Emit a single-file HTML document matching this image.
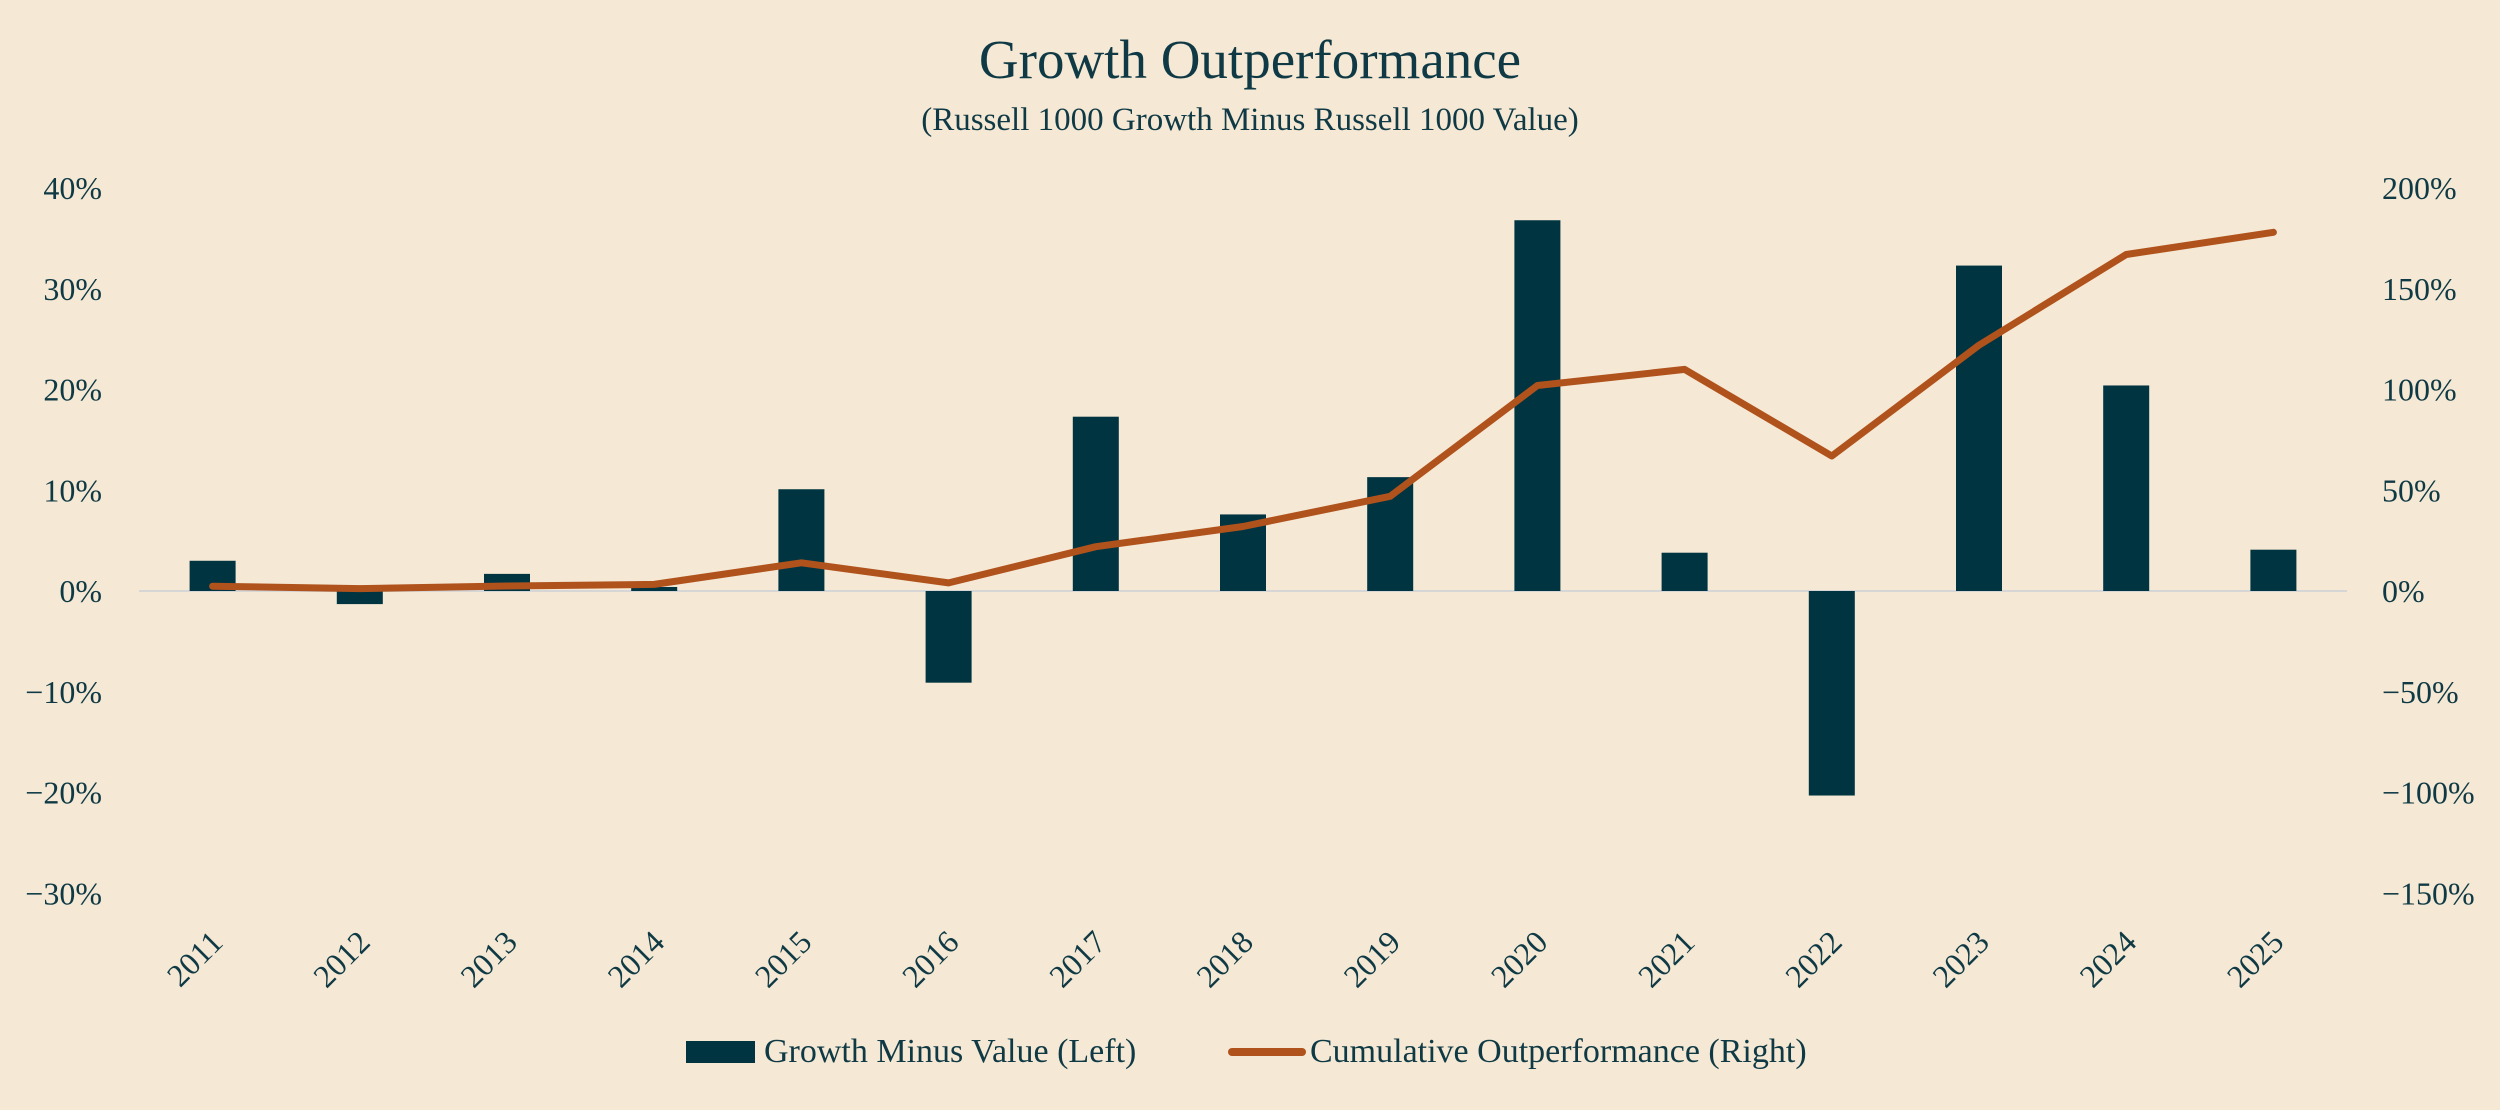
<!DOCTYPE html>
<html><head><meta charset="utf-8"><style>
html,body{margin:0;padding:0;background:#f5e8d4;}
svg{display:block;font-family:"Liberation Serif",serif;}
</style></head><body>
<svg id="chart" width="2500" height="1110" viewBox="0 0 2500 1110">
<rect width="2500" height="1110" fill="#f5e8d4"/>
<text x="1250" y="78" text-anchor="middle" font-size="55" fill="#0f3a45">Growth Outperformance</text>
<text x="1250" y="130" text-anchor="middle" font-size="33" fill="#0f3a45">(Russell 1000 Growth Minus Russell 1000 Value)</text>
<g id="grid"></g><g id="bars"></g><g id="line"></g><g id="axes"></g>
<g>
<rect x="686" y="1041" width="69" height="22" fill="#003441"/>
<text x="764" y="1062" font-size="34" fill="#0f3a45">Growth Minus Value (Left)</text>
<line x1="1232" y1="1052" x2="1302" y2="1052" stroke="#b0521c" stroke-width="8" stroke-linecap="round"/>
<text x="1310" y="1062" font-size="34" fill="#0f3a45">Cumulative Outperformance (Right)</text>
</g>
</svg>
<script>
const years=["2011","2012","2013","2014","2015","2016","2017","2018","2019","2020","2021","2022","2023","2024","2025"];
const spread=[3.0,-1.3,1.7,0.4,10.1,-9.1,17.3,7.6,11.3,36.8,3.8,-20.3,32.3,20.4,4.1];
const cumulative=[2.4,1.2,2.5,3.3,14,4,22,32,47,102,110,67,122,167,178];
const leftTicks=[40,30,20,10,0,-10,-20,-30];
const rightTicks=[200,150,100,50,0,-50,-100,-150];
const NS="http://www.w3.org/2000/svg";
const x0=139,x1=2347,band=(x1-x0)/years.length;
const zeroY=591,pxPerPct=10.075;
const yL=v=>zeroY-v*pxPerPct;
const yR=v=>zeroY-v*pxPerPct/5;
const xC=i=>x0+band*(i+0.5);
function mk(t,a,p){const e=document.createElementNS(NS,t);for(const k in a)e.setAttribute(k,a[k]);p.appendChild(e);return e;}
const axes=document.getElementById('axes');
const zl=mk('line',{x1:x0,x2:x1,y1:zeroY,y2:zeroY,stroke:'#d6d6d6','stroke-width':2},document.getElementById('grid'));


leftTicks.forEach(v=>{
 const t=mk('text',{x:102,y:yL(v)+11,'text-anchor':'end','font-size':32,fill:'#0f3a45'},axes);
 t.textContent=(v<0?'\u2212':'')+Math.abs(v)+'%';
 
 
});
rightTicks.forEach(v=>{
 const t=mk('text',{x:2382,y:yR(v)+11,'font-size':32,fill:'#0f3a45'},axes);
 t.textContent=(v<0?'\u2212':'')+Math.abs(v)+'%';
 
 
});
const bars=document.getElementById('bars');
const bw=46;
spread.forEach((v,i)=>{
 const y=Math.min(yL(v),zeroY),h=Math.abs(yL(v)-zeroY);
 const r=mk('rect',{x:xC(i)-bw/2,y:y,width:bw,height:h,fill:'#003441'},bars);
 
 
});
const pts=cumulative.map((v,i)=>xC(i).toFixed(1)+','+yR(v).toFixed(1)).join(' ');
const pl=mk('polyline',{points:pts,fill:'none',stroke:'#b0521c','stroke-width':7,'stroke-linecap':'round','stroke-linejoin':'round'},document.getElementById('line'));


years.forEach((yr,i)=>{
 const cx=xC(i)+12,cy=944;
 const t=mk('text',{x:cx,y:cy,'text-anchor':'end','font-size':32,fill:'#0f3a45',transform:`rotate(-45 ${cx} ${cy})`},axes);
 t.textContent=yr;
 
 
});
</script>
</body></html>
